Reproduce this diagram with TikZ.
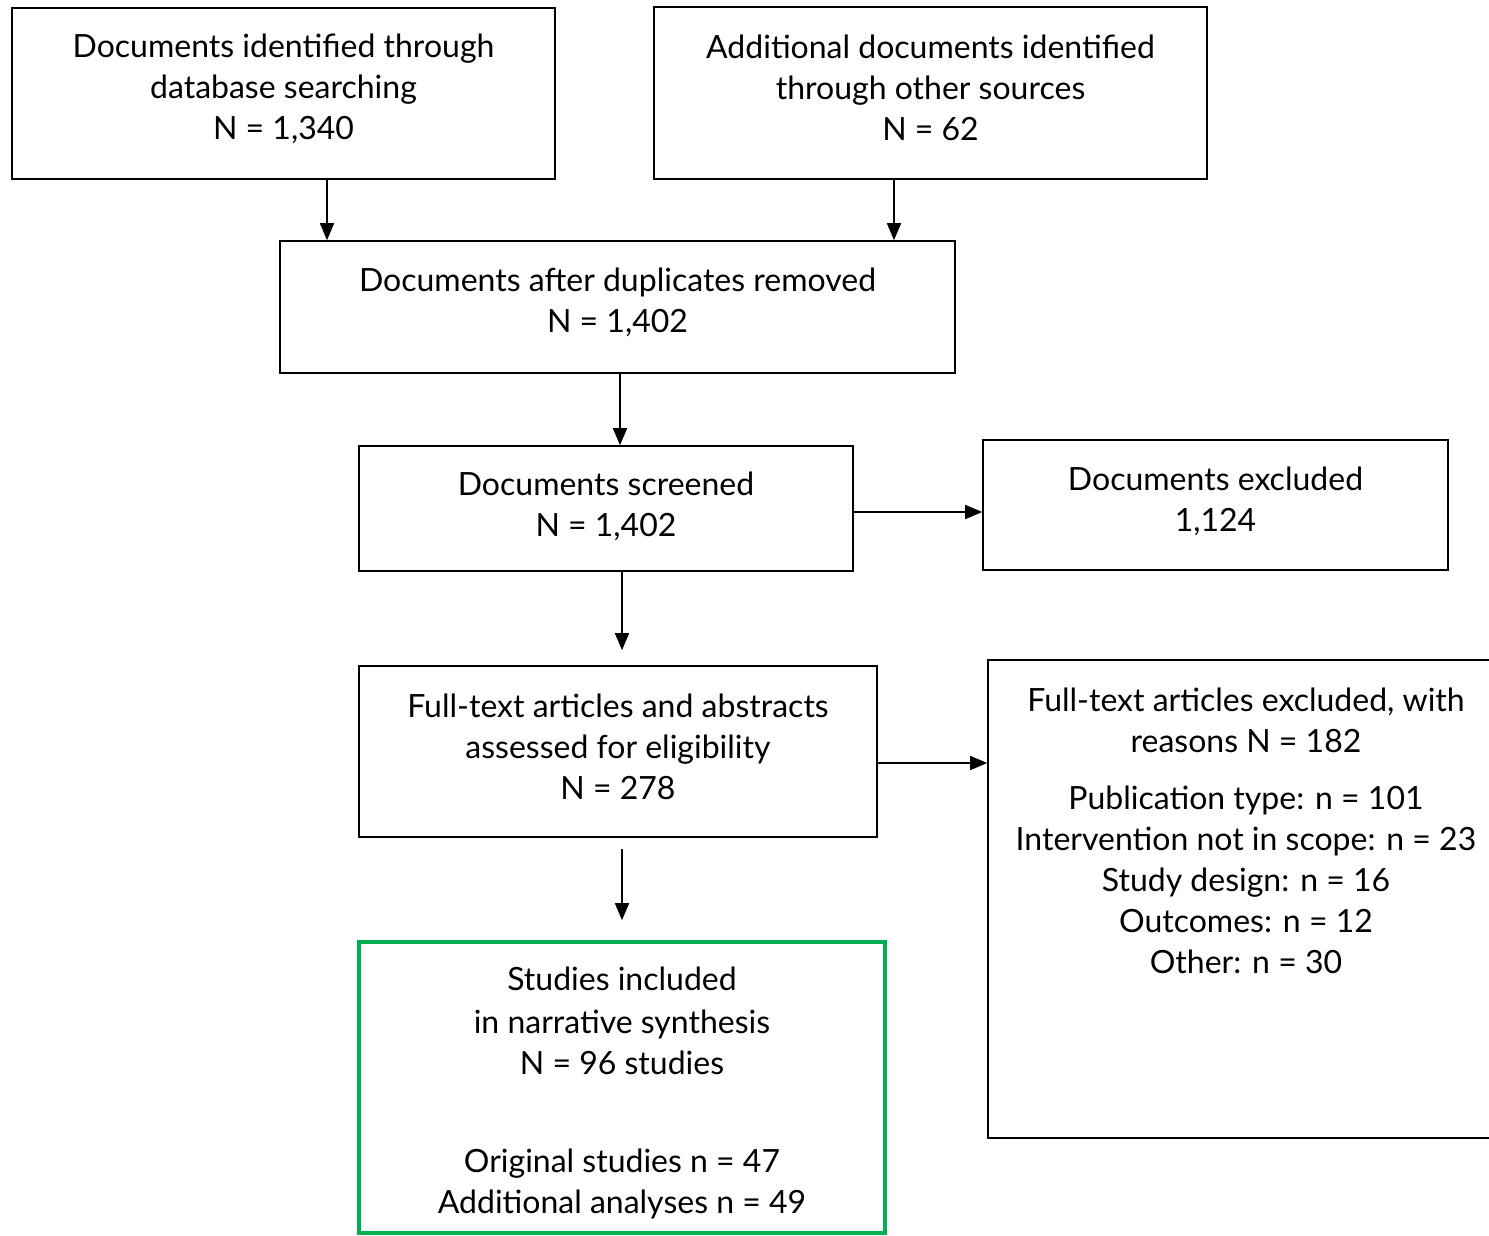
\documentclass[tikz,border=0pt]{standalone}
\usepackage{fontspec}
\setmainfont{Lato}
\usetikzlibrary{arrows.meta}

\tikzset{every picture/.style={line width=1.6pt}}
\tikzset{
  box/.style={draw, rectangle, inner sep=0pt, align=center, font=\fontsize{32}{41}\selectfont},
  txt/.style={inner sep=0pt, align=center, font=\fontsize{32}{41}\selectfont},
  arr/.style={-{Triangle[length=17pt,width=14pt]}, line width=1.6pt},
}

\begin{document}
\begin{tikzpicture}[x=1pt,y=-1pt]
\useasboundingbox (0,0) rectangle (1489,1236);

%Shape: Rectangle [identified]
\node[box, minimum width=543, minimum height=171] (ident) at (283.5,93.5) {};
%Shape: Rectangle [other sources]
\node[box, minimum width=553, minimum height=172] (other) at (930.5,93) {};
%Shape: Rectangle [duplicates]
\node[box, minimum width=675, minimum height=132] (dupl) at (617.5,307) {};
%Shape: Rectangle [screened]
\node[box, minimum width=494, minimum height=125] (screen) at (606,508.5) {};
%Shape: Rectangle [excluded]
\node[box, minimum width=465, minimum height=130] (excl) at (1215.5,505) {};
%Shape: Rectangle [eligibility]
\node[box, minimum width=518, minimum height=171] (elig) at (618,751.5) {};
%Shape: Rectangle [included]
\node[box, draw={rgb,255:red,0;green,176;blue,80}, line width=3.6pt, minimum width=526, minimum height=291] (incl) at (622,1087.5) {};
%Shape: Rectangle [reasons]
\node[box, minimum width=516, minimum height=478] (reas) at (1246,899) {};

% Text Node
\node[txt] (identtxt) at ([yshift=5]ident.center) {Documents identified through\\database searching\\N = 1,340};
% Text Node
\node[txt] (othertxt) at ([yshift=5]other.center) {Additional documents identified\\through other sources\\N = 62};
% Text Node
\node[txt] (dupltxt) at ([yshift=5]dupl.center) {Documents after duplicates removed\\N = 1,402};
% Text Node
\node[txt] (screentxt) at ([yshift=2]screen.center) {Documents screened\\N = 1,402};
% Text Node
\node[txt] (excltxt) at ([yshift=4]excl.center) {Documents excluded\\1,124};
% Text Node
\node[txt] (eligtxt) at ([yshift=5]elig.center) {Full-text articles and abstracts\\assessed for eligibility\\N = 278};
% Text Node
\node[txt] (incltxt) at ([yshift=-5]incl.center) {Studies included\\[2pt]in narrative synthesis\\N = 96 studies\\[57pt]Original studies n = 47\\Additional analyses n = 49};
% Text Node
\node[txt, anchor=north] (reastxt) at ([yshift=-28]reas.north) {Full-text articles excluded, with\\reasons N = 182\\[16pt]Publication type: n = 101\\Intervention not in scope: n = 23\\Study design: n = 16\\Outcomes: n = 12\\Other: n = 30};

%Straight Lines
\coordinate (a1) at ([xshift=43.5]ident.south);
\coordinate (b1) at ([xshift=-36.5]other.south);
\coordinate (c1) at ([xshift=2.5]dupl.south);
\coordinate (d1) at ([xshift=16]screen.south);
\coordinate (d2) at ([yshift=-3.5]screen.east);
\coordinate (f1) at ([xshift=4,yshift=-11]elig.south);
\coordinate (f2) at ([yshift=-11.5]elig.east);

\draw[arr] (a1) -- (a1 |- dupl.north);
\draw[arr] (b1) -- (b1 |- dupl.north);
\draw[arr] (c1) -- (c1 |- screen.north);
\draw[arr] (d2) -- (d2 -| excl.west);
\draw[arr, shorten >=15pt] (d1) -- (d1 |- elig.north);
\draw[arr] (f2) -- (f2 -| reas.west);
\draw[arr, shorten >=20pt] (f1) -- (f1 |- incl.north);

\end{tikzpicture}
\end{document}
